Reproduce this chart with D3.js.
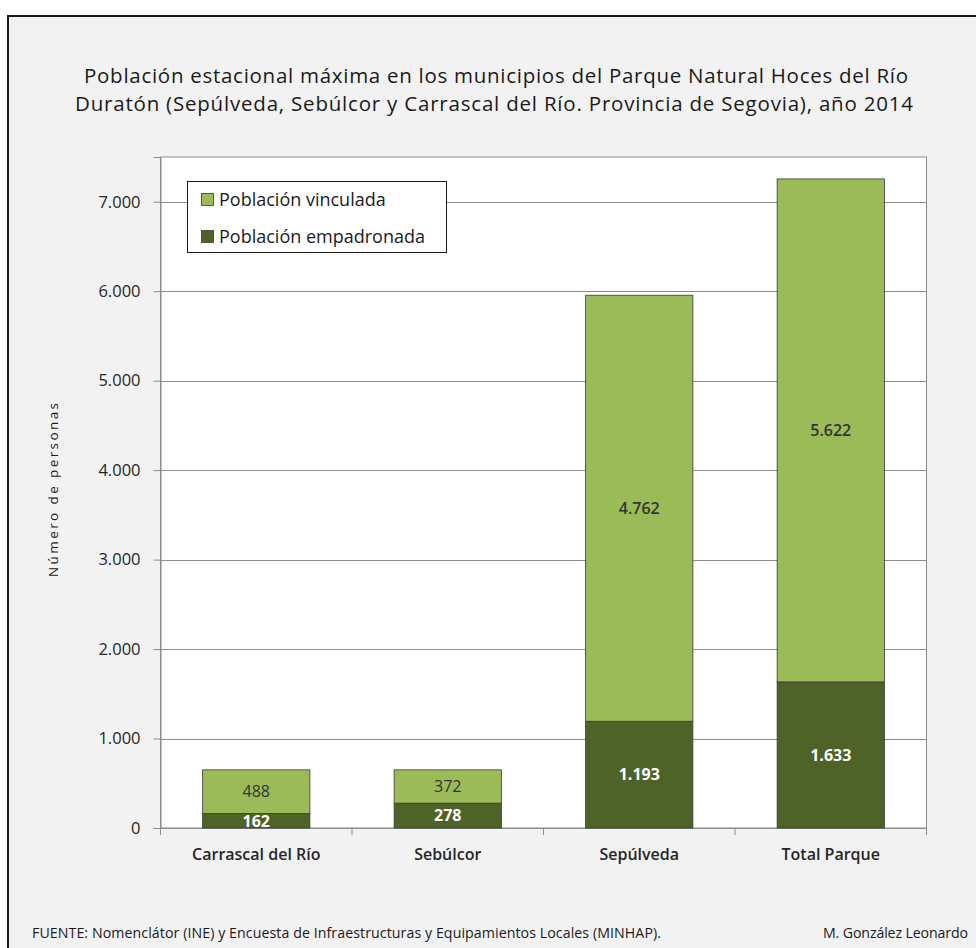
<!DOCTYPE html>
<html><head><meta charset="utf-8">
<script src="https://cdn.jsdelivr.net/npm/d3@7"></script>
<style>
html,body{margin:0;padding:0;background:#fff;}
svg{display:block;}
</style></head>
<body>
<script>
const categories = ["Carrascal del Río", "Sebúlcor", "Sepúlveda", "Total Parque"];
const empadronada = [162, 278, 1193, 1633];
const vinculada = [488, 372, 4762, 5622];
const yTicks = [0, 1000, 2000, 3000, 4000, 5000, 6000, 7000];
const seriesNames = ["Población vinculada", "Población empadronada"];
const titleLines = [
  "Población estacional máxima en los municipios del Parque Natural Hoces del Río",
  "Duratón (Sepúlveda, Sebúlcor y Carrascal del Río. Provincia de Segovia), año 2014"
];
const yTitle = "Número de personas";
const source = "FUENTE: Nomenclátor (INE) y Encuesta de Infraestructuras  y Equipamientos Locales (MINHAP).";
const author = "M. González Leonardo";

const W = 976, H = 948;
const FONT = "'Open Sans', Lato, sans-serif";
const LIGHT = "#9bbb59", DARK = "#4f6228";

const loc = d3.formatLocale({decimal: ",", thousands: ".", grouping: [3], currency: ["", "€"]});
const fmt = loc.format(",d");

const svg = d3.select("body").append("svg").attr("width", W).attr("height", H);

svg.append("rect").attr("x", 8).attr("y", 16).attr("width", 1100).attr("height", 1100)
  .attr("fill", "#f2f2f2").attr("stroke", "#1a1a1a").attr("stroke-width", 2);

// title
const titleSpans = [[84, 908], [75, 913]];
svg.append("g").selectAll("text").data(titleLines).join("text")
  .attr("x", (d, i) => titleSpans[i][0]).attr("y", (d, i) => 83 + i * 28)
  .attr("font-family", FONT).attr("font-size", 20.5)
  .attr("textLength", (d, i) => titleSpans[i][1] - titleSpans[i][0]).attr("lengthAdjust", "spacing")
  .attr("fill", "#1a1a1a").text(d => d);

const plot = {left: 160.5, right: 926.5, top: 157, bottom: 828};
const x = d3.scaleBand().domain(categories).range([plot.left, plot.right]).paddingInner(0.44).paddingOuter(0.22);
const y = d3.scaleLinear().domain([0, 7500]).range([plot.bottom, plot.top]);

svg.append("rect").attr("x", plot.left).attr("y", plot.top)
  .attr("width", plot.right - plot.left).attr("height", plot.bottom - plot.top)
  .attr("fill", "#fff").attr("stroke", "#8c8c8c").attr("stroke-width", 1);

// gridlines
svg.append("g").selectAll("line").data(yTicks.filter(d => d > 0)).join("line")
  .attr("x1", plot.left).attr("x2", plot.right)
  .attr("y1", d => Math.round(y(d)) + 0.5).attr("y2", d => Math.round(y(d)) + 0.5)
  .attr("stroke", "#8c8c8c").attr("stroke-width", 1);

// y axis
const yAxis = svg.append("g").attr("transform", `translate(${plot.left},0)`)
  .call(d3.axisLeft(y).tickValues(yTicks).tickFormat(fmt).tickSize(7).tickPadding(13));
yAxis.select(".domain").attr("stroke", "#8c8c8c");
yAxis.selectAll(".tick line").attr("stroke", "#8c8c8c");
yAxis.selectAll("text").attr("font-family", FONT).attr("font-size", 16.5).attr("font-weight", 500).attr("fill", "#262626");

// x axis
const xAxis = svg.append("g").attr("transform", `translate(0,${plot.bottom})`)
  .call(d3.axisBottom(x).tickSize(0).tickPadding(21));
xAxis.select(".domain").attr("stroke", "#8c8c8c");
xAxis.selectAll("text").attr("font-family", FONT).attr("font-size", 16).attr("font-weight", 600).attr("fill", "#262626");
const bounds = d3.range(categories.length + 1).map(i => plot.left + i * (plot.right - plot.left) / categories.length);
svg.append("g").selectAll("line").data(bounds).join("line")
  .attr("x1", d => d).attr("x2", d => d).attr("y1", plot.bottom).attr("y2", plot.bottom + 7)
  .attr("stroke", "#8c8c8c");

// stacked bars
const rows = categories.map((c, i) => ({cat: c, emp: empadronada[i], vin: vinculada[i]}));
const stack = d3.stack().keys(["emp", "vin"])(rows);
const colors = {emp: DARK, vin: LIGHT};
const gBars = svg.append("g");
stack.forEach(layer => {
  gBars.append("g").selectAll("rect").data(layer).join("rect")
    .attr("x", d => x(d.data.cat)).attr("width", x.bandwidth())
    .attr("y", d => y(d[1])).attr("height", d => y(d[0]) - y(d[1]))
    .attr("fill", colors[layer.key]).attr("stroke", "#3a3a3a").attr("stroke-width", 0.8);
});
stack.forEach(layer => {
  gBars.append("g").selectAll("text").data(layer).join("text")
    .attr("x", d => x(d.data.cat) + x.bandwidth() / 2)
    .attr("y", d => (y(d[0]) + y(d[1])) / 2)
    .attr("dy", "0.36em").attr("text-anchor", "middle")
    .attr("font-family", FONT).attr("font-size", 16)
    .attr("font-weight", d => layer.key === "emp" ? 700 : (d.data[layer.key] > 1000 ? 600 : 400))
    .attr("fill", layer.key === "emp" ? "#fff" : "#333")
    .text(d => fmt(d.data[layer.key]));
});

// legend
const lg = svg.append("g");
lg.append("rect").attr("x", 187.5).attr("y", 181.5).attr("width", 259).attr("height", 71)
  .attr("fill", "#fff").attr("stroke", "#1a1a1a").attr("stroke-width", 1);
const legendColors = [LIGHT, DARK];
seriesNames.forEach((name, i) => {
  lg.append("rect").attr("x", 201.5).attr("y", 193.5 + i * 37).attr("width", 12).attr("height", 12)
    .attr("fill", legendColors[i]).attr("stroke", "#3a3a3a").attr("stroke-width", 0.8);
  lg.append("text").attr("x", 219).attr("y", 199.5 + i * 37).attr("dy", "0.36em")
    .attr("font-family", FONT).attr("font-size", 18).attr("fill", "#1a1a1a").text(name);
});

// y title
svg.append("text").attr("transform", "translate(58,490) rotate(-90)")
  .attr("x", -87).attr("font-family", FONT).attr("font-size", 13.5)
  .attr("textLength", 174).attr("lengthAdjust", "spacing")
  .attr("fill", "#1a1a1a").text(yTitle);

// footer
svg.append("text").attr("x", 32).attr("y", 938).attr("font-family", FONT).attr("font-size", 14.2)
  .attr("textLength", 629).attr("lengthAdjust", "spacing")
  .attr("fill", "#1a1a1a").text(source);
svg.append("text").attr("x", 823).attr("y", 938).attr("font-family", FONT).attr("font-size", 14.2)
  .attr("textLength", 145).attr("lengthAdjust", "spacing")
  .attr("fill", "#1a1a1a").text(author);
</script>
</body></html>
